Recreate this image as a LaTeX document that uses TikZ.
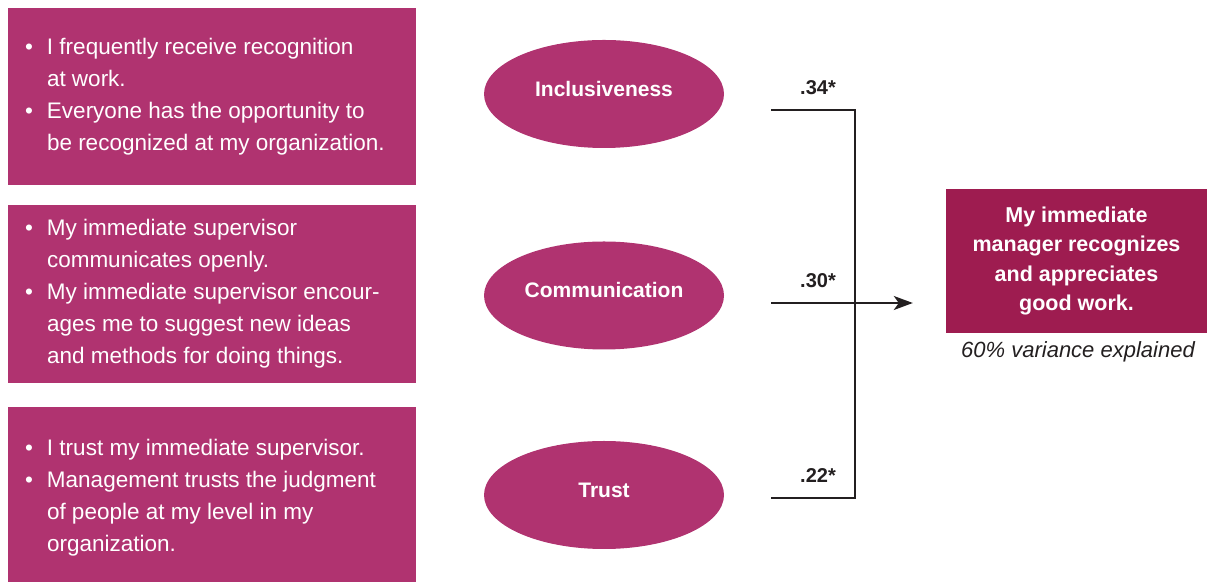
\documentclass[tikz,border=0pt]{standalone}
\usepackage{fontspec}
\setmainfont{Liberation Sans}
\usetikzlibrary{shapes.geometric,arrows.meta}
\definecolor{rosebox}{RGB}{176,51,112}
\definecolor{winebox}{RGB}{158,28,80}
\definecolor{inkline}{RGB}{35,31,32}
\newcommand{\itm}{\makebox[22pt][l]{\textbullet}}
\newcommand{\cnt}{\makebox[22pt]{}}
\begin{document}
\begin{tikzpicture}[x=1pt,y=1pt]
	\tikzset{item/.style={fill=rosebox,minimum width=408pt,minimum height=177pt,inner sep=0pt},
		list/.style={text=white,align=left,inner sep=0pt,anchor=west,font=\fontsize{22.5}{32}\selectfont},
		factor/.style={ellipse,fill=rosebox,minimum width=240pt,minimum height=108pt,text height=15pt,text depth=10pt,text=white,font=\fontsize{21}{25}\selectfont\bfseries},
		coef/.style={text=inkline,font=\fontsize{20}{24}\selectfont\bfseries},
		link/.style={draw=inkline,line width=2pt}}
	\useasboundingbox(0,0)rectangle(1207,583);
	% statement boxes
	\node[item](b1)at(212,486.5){};
	\node[item,minimum height=178pt](b2)at(212,289){};
	\node[item,minimum height=175pt](b3)at(212,88.5){};
	\node[list](t1)at([xshift=17pt]b1.west){\itm I frequently receive recognition\\\cnt at work.\\\itm Everyone has the opportunity to\\\cnt be recognized at my organization.};
	\node[list](t2)at([xshift=17pt]b2.west){\itm My immediate supervisor\\\cnt communicates openly.\\\itm My immediate supervisor encour-\\\cnt ages me to suggest new ideas\\\cnt and methods for doing things.};
	\node[list](t3)at([xshift=17pt,yshift=-3pt]b3.west){\itm I trust my immediate supervisor.\\\itm Management trusts the judgment\\\cnt of people at my level in my\\\cnt organization.};
	% factors
	\node[factor](f1)at(604,489){Inclusiveness};
	\node[factor](f2)at(604,287.5){Communication};
	\node[factor](f3)at(604,88){Trust};
	% outcome
	\node[fill=winebox,minimum width=261pt,minimum height=144pt,text=white,align=center,font=\fontsize{21.5}{29.5}\selectfont\bfseries](out)at(1076.5,322){My immediate\\manager recognizes\\and appreciates\\good work.};
	\node[text=inkline,font=\fontsize{22}{25}\selectfont\itshape](cap)at(1078,231){60\% variance explained};
	% paths
	\foreach \y/\v [count=\i] in {473/.34,280/.30,85/.22}{
		\coordinate(s\i)at(771,\y);
		\coordinate(j\i)at(855,\y);
		\node[coef](c\i)at(818,\y+22){\v*};
	}
	\draw[link](s1)--(j1)--(j3)--(s3);
	\draw[link,-{Stealth[length=19pt,width=14pt,inset=5pt]},shorten >=33pt](s2)--(s2-|out.west);
\end{tikzpicture}
\end{document}
